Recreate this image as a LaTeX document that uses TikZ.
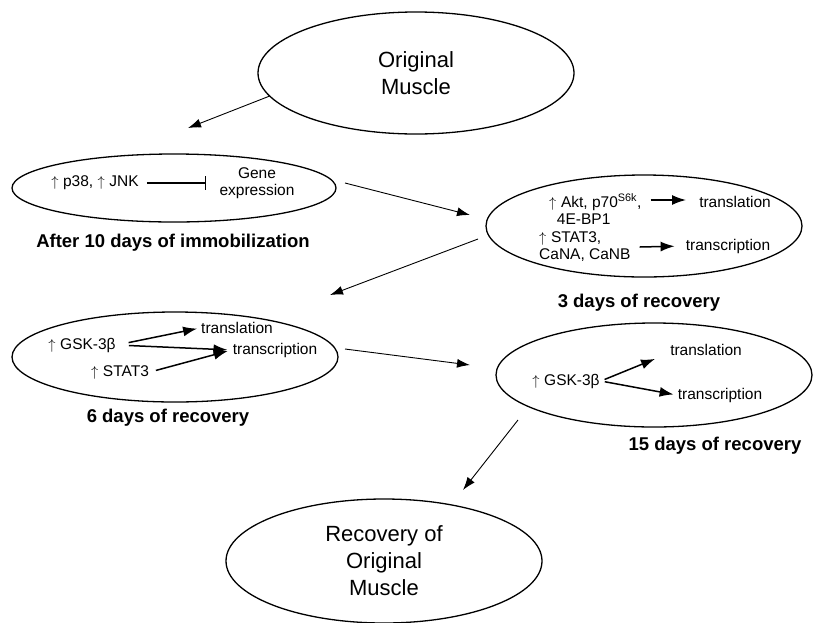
\documentclass[tikz,border=0pt]{standalone}
\usepackage{fontspec}
\setmainfont{Liberation Sans}
\usetikzlibrary{shapes.geometric,arrows.meta}

\newcommand{\incr}{$\uparrow$\hspace{0.3em}}

\begin{document}
\begin{tikzpicture}[x=1pt, y=-1pt,
        stage/.style ={draw, ellipse, line width=1.3pt, inner sep=0pt},
        big/.style   ={font=\fontsize{22}{27}\selectfont, align=center},
        sml/.style   ={font=\fontsize{15.5}{17}\selectfont, inner sep=1pt},
        lbl/.style   ={font=\bfseries\fontsize{18.5}{21}\selectfont},
        flow/.style  ={-{Latex[length=13pt, width=9pt]}, line width=0.9pt},
        act/.style   ={-{Latex[length=14pt, width=10pt]}, line width=1.5pt}]
    \useasboundingbox (0,0) rectangle (816,622);

    %--- Stages ---
    \node[stage, big, minimum width=316pt, minimum height=122pt] (orig) at (416,73) {Original\\Muscle};
    \node[stage, minimum width=324pt, minimum height=68pt]  (immob) at (174,188) {};
    \node[stage, minimum width=316pt, minimum height=102pt] (day3)  at (644,226) {};
    \node[stage, minimum width=326pt, minimum height=90pt]  (day6)  at (175,357) {};
    \node[stage, minimum width=316pt, minimum height=104pt] (day15) at (654,375) {};
    \node[stage, big, minimum width=316pt, minimum height=124pt] (recov) at (384,561) {Recovery of\\Original\\Muscle};

    %--- Captions ---
    \node[lbl] (capI)  at (173,243) {After 10 days of immobilization};
    \node[lbl] (cap3)  at (639,303) {3 days of recovery};
    \node[lbl] (cap6)  at (168,418) {6 days of recovery};
    \node[lbl] (cap15) at (715,446) {15 days of recovery};

    %--- Immobilization ---
    \node[sml] (kin)  at (95,183) {\incr p38, \incr JNK};
    \node[sml, align=center] (gene) at (257,183) {Gene\\expression};
    \draw[-{Bar[width=14pt]}, line width=1.5pt, shorten <=7pt, shorten >=12pt] (kin) -- (gene);

    %--- 3 days ---
    \node[sml, align=left, anchor=west] (akt) at (548,209)
        {\incr Akt, p70\textsuperscript{S6k},\\\hspace{0.5em}4E-BP1};
    \node[sml] (tl3) at (735,202) {translation};
    \node[sml, align=left, anchor=west] (stat) at (538,247) {\incr STAT3,\\CaNA, CaNB};
    \node[sml] (tc3) at (728,246) {transcription};
    \draw[act, shorten >=12pt] (akt.east |- tl3) ++(8,-2) coordinate (a3) -- (tl3.west |- a3);
    \draw[act, shorten >=10pt] (stat.east) ++(8,0) -- (tc3.west);

    %--- 6 days ---
    \node[sml] (gsk6) at (82,345) {\incr GSK-3β};
    \node[sml] (st6)  at (120,372) {\incr STAT3};
    \node[sml] (tl6)  at (237,328) {translation};
    \node[sml] (tc6)  at (275,350) {transcription};
    \draw[act, shorten <=12pt, shorten >=3pt] (gsk6.east) -- (tl6.west);
    \draw[act, shorten <=12pt, shorten >=4pt] (gsk6.east) -- (tc6.west);
    \draw[act, shorten <=6pt, shorten >=4pt] (st6.east) -- (tc6.west);

    %--- 15 days ---
    \node[sml] (gsk15) at (566,381) {\incr GSK-3β};
    \node[sml] (tl15)  at (706,350) {translation};
    \node[sml] (tc15)  at (720,395) {transcription};
    \draw[act, shorten <=4pt] (gsk15.east) -- ([xshift=-14pt, yshift=-2pt]tl15.south west);
    \draw[act, shorten <=4pt, shorten >=3pt] (gsk15.east) -- (tc15.west);

    %--- Flow between stages ---
    \coordinate (f1) at (188,128);
    \coordinate (s2) at (345,183);  \coordinate (f2) at (470,215);
    \coordinate (s3) at (478,239);  \coordinate (f3) at (330,295);
    \coordinate (s4) at (345,349);  \coordinate (f4) at (470,365);
    \coordinate (s5) at (518,420);  \coordinate (f5) at (463,490);
    \draw[flow] (orig.189) -- (f1);
    \draw[flow] (s2) -- (f2);
    \draw[flow] (s3) -- (f3);
    \draw[flow] (s4) -- (f4);
    \draw[flow] (s5) -- (f5);

\end{tikzpicture}
\end{document}
